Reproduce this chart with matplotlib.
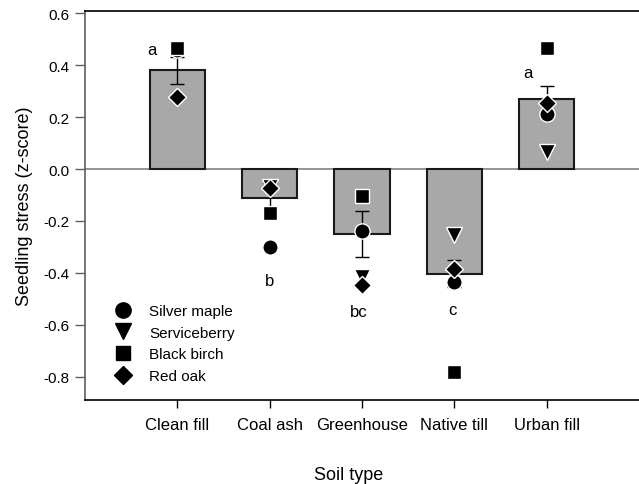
import matplotlib
matplotlib.use("Agg")
import matplotlib.pyplot as plt
import numpy as np
from matplotlib.lines import Line2D

plt.rcParams['font.family'] = ['Liberation Sans', 'DejaVu Sans']

categories = ["Clean fill", "Coal ash", "Greenhouse", "Native till", "Urban fill"]
bar_means = [0.38, -0.112, -0.25, -0.403, 0.268]
bar_se = [0.052, 0.06, 0.088, 0.053, 0.05]
silver_maple = [0.46, -0.30, -0.237, -0.436, 0.212]
serviceberry = [np.nan, -0.07, -0.414, -0.256, 0.064]
black_birch = [0.465, -0.17, -0.105, -0.78, 0.468]
red_oak = [0.278, -0.073, -0.446, -0.385, 0.253]
letters = ["a", "b", "bc", "c", "a"]
letter_x = [0.72, 2.0, 2.97, 3.98, 4.8]
letter_y = [0.459, -0.43, -0.55, -0.54, 0.37]
yticks = [-0.8, -0.6, -0.4, -0.2, 0.0, 0.2, 0.4, 0.6]

fig = plt.figure(figsize=(6.39, 4.85), dpi=100)
ax = fig.add_axes([0.133, 0.173, 0.867, 0.803])

x = np.arange(1, len(categories) + 1)
ax.bar(x, bar_means, width=0.6, color="#a8a8a8", edgecolor="#1a1a1a", linewidth=1.5, zorder=2)
ax.axhline(0, color="#808080", linewidth=1.2, zorder=1)
ax.errorbar(x, bar_means, yerr=bar_se, fmt="none", ecolor="black", elinewidth=1,
            capsize=5, capthick=1, zorder=3)

series = [
    (silver_maple, "o", 11, "Silver maple"),
    (serviceberry, "v", 11, "Serviceberry"),
    (black_birch, "s", 9.5, "Black birch"),
    (red_oak, "D", 9, "Red oak"),
]
for vals, mk, ms, lab in series:
    ax.plot(x, vals, linestyle="none", marker=mk, markersize=ms, color="black",
            markeredgecolor="white", markeredgewidth=1, zorder=4)

for lx, ly, t in zip(letter_x, letter_y, letters):
    ax.text(lx, ly, t, ha="center", va="center", fontsize=12, zorder=5)

handles = [Line2D([], [], linestyle="none", marker=mk, markersize=ms, color="black",
                  markeredgecolor="black", label=lab) for vals, mk, ms, lab in series]
ax.legend(handles=handles, loc="upper left", bbox_to_anchor=(0.037, 0.262), frameon=False,
          fontsize=11, handletextpad=0.95, labelspacing=0.5, borderaxespad=0.0,
          borderpad=0.4, handlelength=1.5)

ax.set_xlim(0, 6)
ax.set_ylim(-0.89, 0.61)
ax.set_xticks(x)
ax.set_xticklabels(categories, fontsize=12)
ax.set_yticks(yticks)
ax.set_yticklabels([f"{v:.1f}" for v in yticks], fontsize=11)
ax.tick_params(axis="x", direction="out", length=6, width=1, pad=6)
ax.tick_params(axis="y", direction="out", length=7, width=1, pad=4.5, color="#606060")
ax.spines["right"].set_visible(False)
ax.spines["left"].set_color("#606060")
ax.spines["left"].set_linewidth(1.2)
ax.spines["bottom"].set_linewidth(1.2)
ax.spines["top"].set_linewidth(1.2)

ax.set_xlabel("Soil type", fontsize=13)
ax.set_ylabel("Seedling stress (z-score)", fontsize=13)
ax.xaxis.set_label_coords(0.475, -0.168)
ax.yaxis.set_label_coords(-0.094, 0.5)

fig.savefig("out.png", dpi=100)
